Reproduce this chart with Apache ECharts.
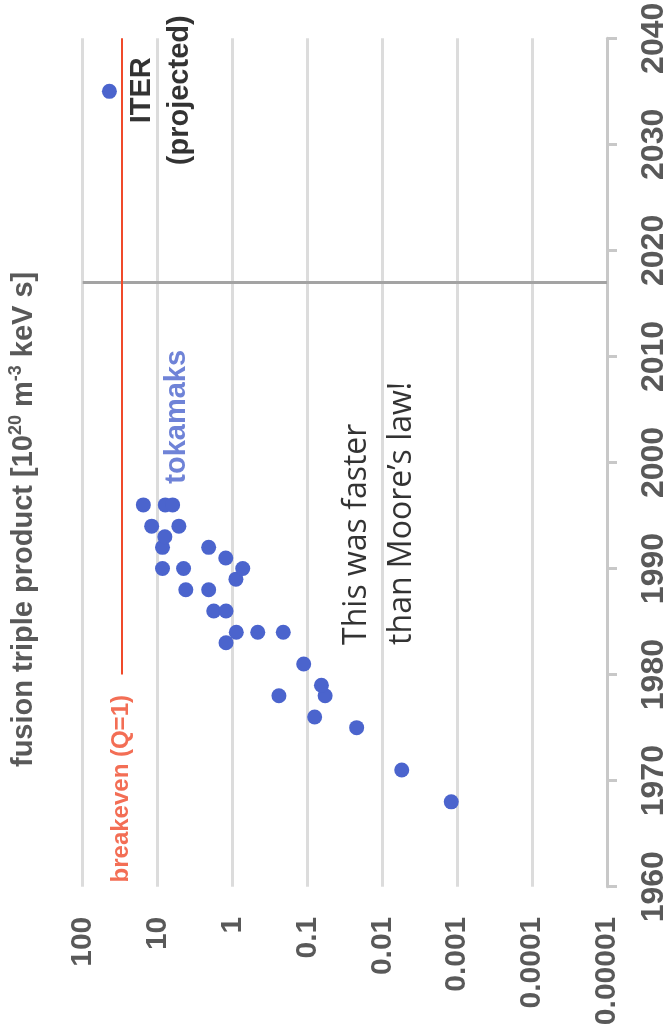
<!DOCTYPE html>
<html>
<head>
<meta charset="utf-8">
<script src="https://cdn.jsdelivr.net/npm/echarts@6/dist/echarts.min.js"></script>
<style>html,body{margin:0;padding:0;background:#fff}#chart{width:667px;height:1036px}</style>
</head>
<body>
<div id="chart"></div>
<script>
// ---- data ----
const tokamakYears  = [1968, 1971, 1975, 1976, 1978, 1978, 1979, 1981, 1983, 1984, 1984, 1984, 1986, 1986, 1988, 1988, 1989, 1990, 1990, 1990, 1991, 1992, 1992, 1993, 1994, 1994, 1996, 1996, 1996];
const tokamakValues = [0.0012, 0.0055, 0.022, 0.08, 0.24, 0.058, 0.065, 0.112, 1.22, 0.89, 0.46, 0.21, 1.78, 1.22, 4.2, 2.08, 0.9, 8.6, 4.5, 0.73, 1.23, 8.6, 2.08, 8.0, 12, 5.2, 15.5, 7.9, 6.3];
const iterYears  = [2035];
const iterValues = [44];
const breakevenValue = 30;
const breakevenYears = [1980, 2040];
const todayYear = 2017;
const yearMin = 1960, yearMax = 2040, yearStep = 10;
const valueMin = 0.00001, valueMax = 100;
const valueTickLabels = ['0.00001', '0.0001', '0.001', '0.01', '0.1', '1', '10', '100'];

// annotation anchors in data space [value, year]
const noteTokamaks = [5.5, 1998];
const noteIter = [9.0, 2035.1];
const noteMoore = [0.011, 1982.8];
const noteBreakeven = [30, 1960.4];

const SANS = "'Liberation Sans', Arial, Helvetica, sans-serif";
const BLUE = '#4b64cd';
const RED = '#f04a2a';
const GREY_TXT = '#595959';

const chart = echarts.init(document.getElementById('chart'));

function noteItem(pos, text, lbl) {
  return {
    value: pos,
    label: Object.assign({
      show: true, formatter: text, rotate: 90, position: 'inside',
      align: 'left', verticalAlign: 'middle', fontFamily: SANS
    }, lbl)
  };
}

chart.setOption({
  animation: false,
  backgroundColor: '#fff',
  grid: { left: 82.7, right: 60, top: 38.3, bottom: 149.3, containLabel: false, outerBoundsMode: 'none' },
  xAxis: {
    type: 'log', logBase: 10, min: valueMin, max: valueMax, inverse: true,
    axisLine: { show: false }, axisTick: { show: false },
    splitLine: { show: true, lineStyle: { color: '#dcdcdc', width: 3 } },
    axisLabel: {
      rotate: 90, margin: 30, color: GREY_TXT, fontSize: 30, fontWeight: 'bold', fontFamily: SANS,
      formatter: v => valueTickLabels[Math.round(Math.log10(v)) + 5]
    }
  },
  yAxis: {
    type: 'value', position: 'right', min: yearMin, max: yearMax, interval: yearStep,
    splitLine: { show: false },
    axisLine: { show: true, lineStyle: { color: '#c8c8c8', width: 3 } },
    axisTick: { show: true, inside: false, length: 10, lineStyle: { color: '#c8c8c8', width: 3 } },
    axisLabel: {
      rotate: 90, margin: 31, color: GREY_TXT, fontSize: 32, fontWeight: 'bold', fontFamily: SANS,
      formatter: v => String(v)
    }
  },
  series: [
    {
      type: 'scatter', name: 'tokamaks', symbolSize: 15,
      itemStyle: { color: BLUE, opacity: 1 },
      data: tokamakYears.map((y, i) => [tokamakValues[i], y]),
      z: 5,
      markLine: {
        silent: true, symbol: 'none', animation: false,
        label: { show: false },
        data: [
          { yAxis: todayYear, lineStyle: { color: '#a3a3a3', width: 3, type: 'solid' } },
          [
            { coord: [breakevenValue, breakevenYears[0]], lineStyle: { color: RED, width: 2, type: 'solid' } },
            { coord: [breakevenValue, breakevenYears[1]] }
          ]
        ]
      }
    },
    {
      type: 'scatter', name: 'ITER', symbolSize: 15,
      itemStyle: { color: BLUE, opacity: 1 },
      data: iterYears.map((y, i) => [iterValues[i], y]),
      z: 5
    },
    {
      type: 'scatter', name: 'notes', symbolSize: 0, silent: true, z: 6,
      itemStyle: { color: 'rgba(0,0,0,0)' },
      data: [
        noteItem(noteTokamaks, 'tokamaks', { color: BLUE, fontSize: 29, fontWeight: 'bold' }),
        noteItem(noteIter, 'ITER\n(projected)', { color: '#000', fontSize: 29, fontWeight: 'bold', lineHeight: 38, align: 'center' }),
        noteItem(noteMoore, 'This was faster\nthan Moore\u2019s law!', { color: '#000', fontSize: 32, fontFamily: "'Open Sans', sans-serif", fontWeight: 'normal', lineHeight: 45 }),
        noteItem(noteBreakeven, 'breakeven (Q=1)', { color: RED, fontSize: 24, fontWeight: 'bold' })
      ]
    }
  ],
  graphic: [
    {
      type: 'text', x: 24, y: 767, rotation: Math.PI / 2, silent: true,
      style: {
        text: '{a|fusion triple product [10}{s|20}{a| m}{s|-3}{a| keV s]}',
        textAlign: 'left', textVerticalAlign: 'middle',
        rich: {
          a: { fontSize: 29, fontWeight: 'bold', fontFamily: SANS, fill: GREY_TXT, lineHeight: 33 },
          s: { fontSize: 18, fontWeight: 'bold', fontFamily: SANS, fill: GREY_TXT, lineHeight: 20, verticalAlign: 'top' }
        }
      }
    }
  ]
});
</script>
</body>
</html>
